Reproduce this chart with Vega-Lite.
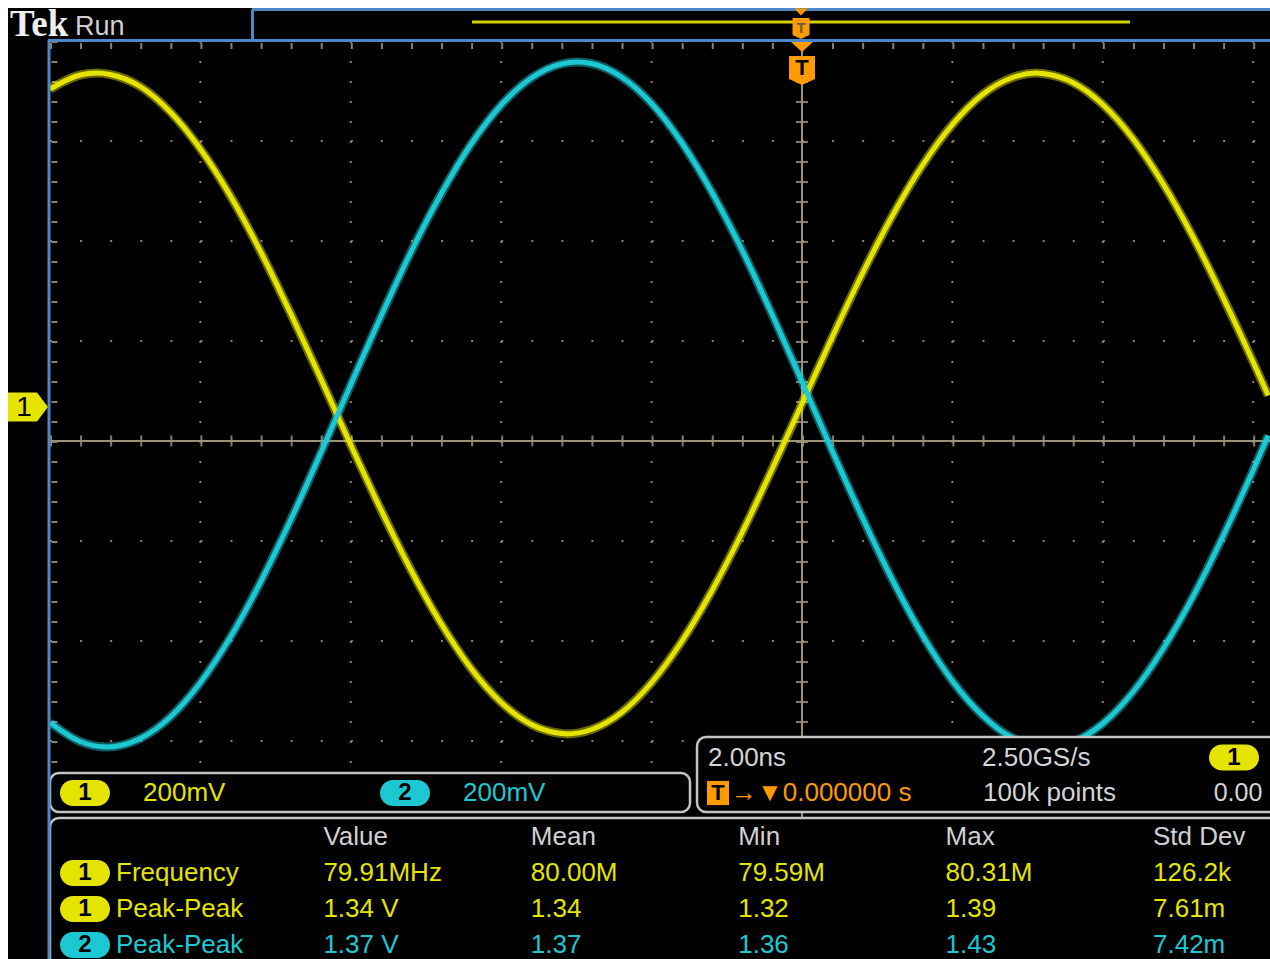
{
  "$schema": "https://vega.github.io/schema/vega-lite/v6.json",
  "width": 1262,
  "height": 951,
  "autosize": {"type": "none"},
  "padding": {"left": 8, "top": 8, "right": 0, "bottom": 0},
  "background": "white",
  "config": {"view": {"stroke": null, "fill": "black"}, "axis": {"disable": true}, "font": "Liberation Sans"},
  "datasets": {
    "traces": [
      {"ch":"1","t":-10,"v":0.636},{"ch":"1","t":-9.6,"v":0.664},{"ch":"1","t":-9.375,"v":0.668},{"ch":"1","t":-9.2,"v":0.665},{"ch":"1","t":-8.8,"v":0.641},{"ch":"1","t":-8.4,"v":0.590},{"ch":"1","t":-8,"v":0.516},{"ch":"1","t":-7.6,"v":0.422},{"ch":"1","t":-7.2,"v":0.311},{"ch":"1","t":-6.8,"v":0.187},{"ch":"1","t":-6.4,"v":0.057},{"ch":"1","t":-6,"v":-0.076},{"ch":"1","t":-5.6,"v":-0.205},{"ch":"1","t":-5.2,"v":-0.326},{"ch":"1","t":-4.8,"v":-0.433},{"ch":"1","t":-4.4,"v":-0.523},{"ch":"1","t":-4,"v":-0.591},{"ch":"1","t":-3.6,"v":-0.635},{"ch":"1","t":-3.2,"v":-0.653},{"ch":"1","t":-3.125,"v":-0.654},{"ch":"1","t":-2.8,"v":-0.645},{"ch":"1","t":-2.4,"v":-0.611},{"ch":"1","t":-2,"v":-0.551},{"ch":"1","t":-1.6,"v":-0.469},{"ch":"1","t":-1.2,"v":-0.368},{"ch":"1","t":-0.8,"v":-0.252},{"ch":"1","t":-0.4,"v":-0.125},{"ch":"1","t":0,"v":0.007},{"ch":"1","t":0.4,"v":0.139},{"ch":"1","t":0.8,"v":0.266},{"ch":"1","t":1.2,"v":0.382},{"ch":"1","t":1.6,"v":0.483},{"ch":"1","t":2,"v":0.565},{"ch":"1","t":2.4,"v":0.625},{"ch":"1","t":2.8,"v":0.659},{"ch":"1","t":3.125,"v":0.668},{"ch":"1","t":3.2,"v":0.667},{"ch":"1","t":3.6,"v":0.649},{"ch":"1","t":4,"v":0.605},{"ch":"1","t":4.4,"v":0.537},{"ch":"1","t":4.8,"v":0.447},{"ch":"1","t":5.2,"v":0.340},{"ch":"1","t":5.6,"v":0.219},{"ch":"1","t":6,"v":0.090},{"ch":"1","t":6.2,"v":0.023},
      {"ch":"2","t":-10,"v":-0.631},{"ch":"2","t":-9.6,"v":-0.669},{"ch":"2","t":-9.24,"v":-0.680},{"ch":"2","t":-8.8,"v":-0.663},{"ch":"2","t":-8.4,"v":-0.620},{"ch":"2","t":-8,"v":-0.551},{"ch":"2","t":-7.6,"v":-0.460},{"ch":"2","t":-7.2,"v":-0.350},{"ch":"2","t":-6.8,"v":-0.226},{"ch":"2","t":-6.4,"v":-0.092},{"ch":"2","t":-6,"v":0.045},{"ch":"2","t":-5.6,"v":0.181},{"ch":"2","t":-5.2,"v":0.310},{"ch":"2","t":-4.8,"v":0.426},{"ch":"2","t":-4.4,"v":0.526},{"ch":"2","t":-4,"v":0.604},{"ch":"2","t":-3.6,"v":0.658},{"ch":"2","t":-3.2,"v":0.686},{"ch":"2","t":-3,"v":0.690},{"ch":"2","t":-2.8,"v":0.687},{"ch":"2","t":-2.4,"v":0.660},{"ch":"2","t":-2,"v":0.607},{"ch":"2","t":-1.6,"v":0.529},{"ch":"2","t":-1.2,"v":0.430},{"ch":"2","t":-0.8,"v":0.315},{"ch":"2","t":-0.4,"v":0.186},{"ch":"2","t":0,"v":0.051},{"ch":"2","t":0.4,"v":-0.087},{"ch":"2","t":0.8,"v":-0.220},{"ch":"2","t":1.2,"v":-0.345},{"ch":"2","t":1.6,"v":-0.456},{"ch":"2","t":2,"v":-0.548},{"ch":"2","t":2.4,"v":-0.617},{"ch":"2","t":2.8,"v":-0.662},{"ch":"2","t":3.2,"v":-0.680},{"ch":"2","t":3.26,"v":-0.680},{"ch":"2","t":3.6,"v":-0.670},{"ch":"2","t":4,"v":-0.633},{"ch":"2","t":4.4,"v":-0.570},{"ch":"2","t":4.8,"v":-0.484},{"ch":"2","t":5.2,"v":-0.379},{"ch":"2","t":5.6,"v":-0.258},{"ch":"2","t":6,"v":-0.126},{"ch":"2","t":6.2,"v":-0.057}
    ],
    "vgrid": [{"t":-8},{"t":-6},{"t":-4},{"t":-2},{"t":2},{"t":4},{"t":6}],
    "hgrid": [{"v":0.532},{"v":0.332},{"v":0.132},{"v":-0.268},{"v":-0.468},{"v":-0.668}],
    "channels": [{"ch":"1","vdiv":"200mV"},{"ch":"2","vdiv":"200mV"}],
    "labels": [
      {"key":"brand","text":"Tek"},{"key":"state","text":"Run"},{"key":"trigger","text":"T"},
      {"key":"scale","text":"2.00ns"},{"key":"rate","text":"2.50GS/s"},
      {"key":"position","text":"→▼0.000000 s"},{"key":"record","text":"100k points"},{"key":"level","text":"0.00"}
    ],
    "meas": [
      {"row":"h","ch":"h","col":"Value","text":"Value"},{"row":"h","ch":"h","col":"Mean","text":"Mean"},{"row":"h","ch":"h","col":"Min","text":"Min"},{"row":"h","ch":"h","col":"Max","text":"Max"},{"row":"h","ch":"h","col":"Std Dev","text":"Std Dev"},
      {"row":"r1","ch":"1","col":"label","text":"Frequency"},{"row":"r1","ch":"1","col":"Value","text":"79.91MHz"},{"row":"r1","ch":"1","col":"Mean","text":"80.00M"},{"row":"r1","ch":"1","col":"Min","text":"79.59M"},{"row":"r1","ch":"1","col":"Max","text":"80.31M"},{"row":"r1","ch":"1","col":"Std Dev","text":"126.2k"},
      {"row":"r2","ch":"1","col":"label","text":"Peak-Peak"},{"row":"r2","ch":"1","col":"Value","text":"1.34 V"},{"row":"r2","ch":"1","col":"Mean","text":"1.34"},{"row":"r2","ch":"1","col":"Min","text":"1.32"},{"row":"r2","ch":"1","col":"Max","text":"1.39"},{"row":"r2","ch":"1","col":"Std Dev","text":"7.61m"},
      {"row":"r3","ch":"2","col":"label","text":"Peak-Peak"},{"row":"r3","ch":"2","col":"Value","text":"1.37 V"},{"row":"r3","ch":"2","col":"Mean","text":"1.37"},{"row":"r3","ch":"2","col":"Min","text":"1.36"},{"row":"r3","ch":"2","col":"Max","text":"1.43"},{"row":"r3","ch":"2","col":"Std Dev","text":"7.42m"}
    ]
  },
  "resolve": {"scale": {"x": "independent", "y": "independent"}},
  "layer": [
    {
      "layer": [
        {"data":{"name":"hgrid"},"mark":{"type":"rule","color":"#8a826c","strokeWidth":2,"strokeDash":[2,28.08]},
         "encoding":{"x":{"datum":-10,"type":"quantitative","scale":{"domain":[-10.5585,6.2234],"nice":false,"zero":false},"axis":null},"x2":{"datum":6.2234},
                     "y":{"field":"v","type":"quantitative","scale":{"domain":[-1.104,0.798],"nice":false,"zero":false},"axis":null}}},
        {"data":{"name":"vgrid"},"mark":{"type":"rule","color":"#8a826c","strokeWidth":2,"strokeDash":[2,18]},
         "encoding":{"x":{"field":"t","type":"quantitative","axis":null},"y":{"datum":0.732,"axis":null},"y2":{"datum":-0.74}}},
        {"data":{"values":[{}]},"mark":{"type":"rule","color":"#9c9278","strokeWidth":2},
         "encoding":{"x":{"datum":-10},"x2":{"datum":6.2234},"y":{"datum":-0.068}}},
        {"data":{"values":[{}]},"mark":{"type":"rule","color":"#9c9278","strokeWidth":11,"strokeDash":[2,28.08],"opacity":0.85},
         "encoding":{"x":{"datum":-10},"x2":{"datum":6.2234},"y":{"datum":-0.068}}},
        {"data":{"values":[{}]},"mark":{"type":"rule","color":"#9c9278","strokeWidth":2},
         "encoding":{"x":{"datum":0},"y":{"datum":0.732},"y2":{"datum":-0.83}}},
        {"data":{"values":[{}]},"mark":{"type":"rule","color":"#9c9278","strokeWidth":12,"strokeDash":[2,18],"opacity":0.85},
         "encoding":{"x":{"datum":0},"y":{"datum":0.732},"y2":{"datum":-0.74}}},
        {"data":{"values":[{}]},"mark":{"type":"rule","color":"#8a826c","strokeWidth":6,"strokeDash":[2,28.08]},
         "encoding":{"x":{"datum":-10},"x2":{"datum":6.2234},"y":{"datum":0.722}}},
        {"data":{"values":[{}]},"mark":{"type":"rule","color":"#8a826c","strokeWidth":6,"strokeDash":[2,18]},
         "encoding":{"x":{"datum":-9.94},"y":{"datum":0.732},"y2":{"datum":-0.74}}},
        {"data":{"name":"traces"},"mark":{"type":"line","interpolate":"monotone","strokeWidth":9,"opacity":0.45,"clip":true},
         "encoding":{"x":{"field":"t","type":"quantitative"},"y":{"field":"v","type":"quantitative"},
                     "color":{"field":"ch","type":"nominal","scale":{"domain":["1","2","h"],"range":["#e4e400","#1ec8d2","#d0d0d0"]},"legend":null},
                     "order":{"field":"t","type":"quantitative"}}},
        {"data":{"name":"traces"},"mark":{"type":"line","interpolate":"monotone","strokeWidth":5,"clip":true},
         "encoding":{"x":{"field":"t","type":"quantitative"},"y":{"field":"v","type":"quantitative"},
                     "color":{"field":"ch","type":"nominal","scale":{"domain":["1","2","h"],"range":["#e4e400","#1ec8d2","#d0d0d0"]},"legend":null},
                     "order":{"field":"t","type":"quantitative"}}},
        {"data":{"values":[{}]},"mark":{"type":"rect","fill":"black","stroke":"#c4c4c4","strokeWidth":2.5,"cornerRadius":9},
         "encoding":{"x":{"datum":-10},"x2":{"datum":-1.489},"y":{"datum":-0.732},"y2":{"datum":-0.81}}},
        {"data":{"values":[{}]},"mark":{"type":"rect","fill":"black","stroke":"#c4c4c4","strokeWidth":2.5,"cornerRadius":9,"clip":true},
         "encoding":{"x":{"datum":-1.396},"x2":{"datum":6.4},"y":{"datum":-0.66},"y2":{"datum":-0.81}}},
        {"data":{"values":[{}]},"mark":{"type":"rect","fill":"black","stroke":"#c4c4c4","strokeWidth":2.5,"cornerRadius":9,"clip":true},
         "encoding":{"x":{"datum":-10},"x2":{"datum":6.4},"y":{"datum":-0.822},"y2":{"datum":-1.2}}},
        {"data":{"values":[{}]},"mark":{"type":"rule","color":"#4d87c5","strokeWidth":3},
         "encoding":{"x":{"datum":-10.027},"x2":{"datum":6.2234},"y":{"datum":0.733}}},
        {"data":{"values":[{}]},"mark":{"type":"rule","color":"#4d87c5","strokeWidth":3},
         "encoding":{"x":{"datum":-10.013},"y":{"datum":0.733},"y2":{"datum":-1.104}}},
        {"data":{"values":[{}]},"mark":{"type":"rule","color":"#4d87c5","strokeWidth":3},
         "encoding":{"x":{"datum":-7.314},"x2":{"datum":6.2234},"y":{"datum":0.795}}},
        {"data":{"values":[{}]},"mark":{"type":"rule","color":"#4d87c5","strokeWidth":3},
         "encoding":{"x":{"datum":-7.307},"y":{"datum":0.795},"y2":{"datum":0.733}}},
        {"data":{"values":[{}]},"mark":{"type":"rule","color":"#d2d200","strokeWidth":3},
         "encoding":{"x":{"datum":-4.388},"x2":{"datum":4.362},"y":{"datum":0.77}}},
        {"data":{"values":[{}]},"mark":{"type":"point","shape":"M-1,-0.5L1,-0.5L0,0.5Z","size":196,"filled":true,"opacity":1,"strokeWidth":0,"color":"#ff9a00"},
         "encoding":{"x":{"datum":-0.013},"y":{"datum":0.79}}},
        {"data":{"values":[{}]},"mark":{"type":"point","shape":"M-1,-1.18L1,-1.18L1,0.82L0,1.3L-1,0.82Z","size":289,"filled":true,"opacity":1,"strokeWidth":0,"color":"#ff9a00"},
         "encoding":{"x":{"datum":-0.013},"y":{"datum":0.758}}},
        {"data":{"name":"labels"},"transform":[{"filter":"datum.key == 'trigger'"}],"mark":{"type":"text","color":"#6e5e3e","fontSize":15,"fontWeight":"bold","align":"center","baseline":"middle"},
         "encoding":{"x":{"datum":-0.013},"y":{"datum":0.758},"text":{"field":"text"}}},
        {"data":{"values":[{}]},"mark":{"type":"point","shape":"M-1,-0.45L1,-0.45L0,0.45Z","size":484,"filled":true,"opacity":1,"strokeWidth":0,"color":"#ff9a00"},
         "encoding":{"x":{"datum":0},"y":{"datum":0.72}}},
        {"data":{"values":[{}]},"mark":{"type":"point","shape":"M-1,-1L1,-1L1,0.77L0,1.23L-1,0.77Z","size":676,"filled":true,"opacity":1,"strokeWidth":0,"color":"#ff9a00"},
         "encoding":{"x":{"datum":0},"y":{"datum":0.676}}},
        {"data":{"name":"labels"},"transform":[{"filter":"datum.key == 'trigger'"}],"mark":{"type":"text","color":"black","fontSize":22,"fontWeight":"bold","align":"center","baseline":"middle"},
         "encoding":{"x":{"datum":0},"y":{"datum":0.678},"text":{"field":"text"}}},
        {"data":{"name":"channels"},"transform":[{"filter":"datum.ch == '1'"}],"mark":{"type":"point","shape":"M-1,-0.72L0.45,-0.72L1,0L0.45,0.72L-1,0.72Z","size":1600,"filled":true,"opacity":1,"strokeWidth":0},
         "encoding":{"x":{"datum":-10.293},"y":{"datum":0},"color":{"field":"ch","type":"nominal","scale":{"domain":["1","2","h"],"range":["#e4e400","#1ec8d2","#d0d0d0"]},"legend":null}}},
        {"data":{"name":"channels"},"transform":[{"filter":"datum.ch == '1'"}],"mark":{"type":"text","color":"black","fontSize":28,"align":"center","baseline":"middle"},
         "encoding":{"x":{"datum":-10.346},"y":{"datum":-0.001},"text":{"field":"ch"}}},
        {"data":{"name":"channels"},"transform":[{"filter":"datum.ch == '1'"}],"mark":{"type":"point","shape":"M-0.48,-0.52L0.48,-0.52A0.52,0.52,0,0,1,0.48,0.52L-0.48,0.52A0.52,0.52,0,0,1,-0.48,-0.52Z","size":2500,"filled":true,"opacity":1,"strokeWidth":0},
         "encoding":{"x":{"datum":-9.535},"y":{"datum":-0.772},"color":{"field":"ch","type":"nominal","scale":{"domain":["1","2","h"],"range":["#e4e400","#1ec8d2","#d0d0d0"]},"legend":null}}},
        {"data":{"name":"channels"},"transform":[{"filter":"datum.ch == '1'"}],"mark":{"type":"text","color":"black","fontSize":24,"fontWeight":"bold","align":"center","baseline":"middle"},
         "encoding":{"x":{"datum":-9.535},"y":{"datum":-0.772},"text":{"field":"ch"}}},
        {"data":{"name":"channels"},"transform":[{"filter":"datum.ch == '1'"}],"mark":{"type":"text","fontSize":26,"align":"left","baseline":"middle"},
         "encoding":{"x":{"datum":-8.763},"y":{"datum":-0.772},"text":{"field":"vdiv"},"color":{"field":"ch","type":"nominal","scale":{"domain":["1","2","h"],"range":["#e4e400","#1ec8d2","#d0d0d0"]},"legend":null}}},
        {"data":{"name":"channels"},"transform":[{"filter":"datum.ch == '2'"}],"mark":{"type":"point","shape":"M-0.48,-0.52L0.48,-0.52A0.52,0.52,0,0,1,0.48,0.52L-0.48,0.52A0.52,0.52,0,0,1,-0.48,-0.52Z","size":2500,"filled":true,"opacity":1,"strokeWidth":0},
         "encoding":{"x":{"datum":-5.279},"y":{"datum":-0.772},"color":{"field":"ch","type":"nominal","scale":{"domain":["1","2","h"],"range":["#e4e400","#1ec8d2","#d0d0d0"]},"legend":null}}},
        {"data":{"name":"channels"},"transform":[{"filter":"datum.ch == '2'"}],"mark":{"type":"text","color":"black","fontSize":24,"fontWeight":"bold","align":"center","baseline":"middle"},
         "encoding":{"x":{"datum":-5.279},"y":{"datum":-0.772},"text":{"field":"ch"}}},
        {"data":{"name":"channels"},"transform":[{"filter":"datum.ch == '2'"}],"mark":{"type":"text","fontSize":26,"align":"left","baseline":"middle"},
         "encoding":{"x":{"datum":-4.508},"y":{"datum":-0.772},"text":{"field":"vdiv"},"color":{"field":"ch","type":"nominal","scale":{"domain":["1","2","h"],"range":["#e4e400","#1ec8d2","#d0d0d0"]},"legend":null}}},
        {"data":{"name":"labels"},"transform":[{"filter":"datum.key == 'scale'"}],"mark":{"type":"text","color":"#d4d4d4","fontSize":26,"align":"left","baseline":"middle"},
         "encoding":{"x":{"datum":-1.25},"y":{"datum":-0.701},"text":{"field":"text"}}},
        {"data":{"name":"labels"},"transform":[{"filter":"datum.key == 'rate'"}],"mark":{"type":"text","color":"#d4d4d4","fontSize":26,"align":"left","baseline":"middle"},
         "encoding":{"x":{"datum":2.394},"y":{"datum":-0.701},"text":{"field":"text"}}},
        {"data":{"name":"labels"},"transform":[{"filter":"datum.key == 'record'"}],"mark":{"type":"text","color":"#d4d4d4","fontSize":26,"align":"left","baseline":"middle"},
         "encoding":{"x":{"datum":2.407},"y":{"datum":-0.772},"text":{"field":"text"}}},
        {"data":{"name":"labels"},"transform":[{"filter":"datum.key == 'level'"}],"mark":{"type":"text","color":"#d4d4d4","fontSize":25,"align":"left","baseline":"middle"},
         "encoding":{"x":{"datum":5.475},"y":{"datum":-0.772},"text":{"field":"text"}}},
        {"data":{"name":"labels"},"transform":[{"filter":"datum.key == 'position'"}],"mark":{"type":"text","color":"#ff9a00","fontSize":26,"align":"left","baseline":"middle"},
         "encoding":{"x":{"datum":-0.944},"y":{"datum":-0.772},"text":{"field":"text"}}},
        {"data":{"values":[{}]},"mark":{"type":"point","shape":"M-1,-1.1L1,-1.1L1,1.1L-1,1.1Z","size":484,"filled":true,"opacity":1,"strokeWidth":0,"color":"#ff9a00"},
         "encoding":{"x":{"datum":-1.117},"y":{"datum":-0.772}}},
        {"data":{"name":"labels"},"transform":[{"filter":"datum.key == 'trigger'"}],"mark":{"type":"text","color":"black","fontSize":22,"fontWeight":"bold","align":"center","baseline":"middle"},
         "encoding":{"x":{"datum":-1.117},"y":{"datum":-0.772},"text":{"field":"text"}}},
        {"data":{"name":"channels"},"transform":[{"filter":"datum.ch == '1'"}],"mark":{"type":"point","shape":"M-0.48,-0.52L0.48,-0.52A0.52,0.52,0,0,1,0.48,0.52L-0.48,0.52A0.52,0.52,0,0,1,-0.48,-0.52Z","size":2500,"filled":true,"opacity":1,"strokeWidth":0},
         "encoding":{"x":{"datum":5.745},"y":{"datum":-0.701},"color":{"field":"ch","type":"nominal","scale":{"domain":["1","2","h"],"range":["#e4e400","#1ec8d2","#d0d0d0"]},"legend":null}}},
        {"data":{"name":"channels"},"transform":[{"filter":"datum.ch == '1'"}],"mark":{"type":"text","color":"black","fontSize":24,"fontWeight":"bold","align":"center","baseline":"middle"},
         "encoding":{"x":{"datum":5.745},"y":{"datum":-0.701},"text":{"field":"ch"}}},
        {"data":{"name":"labels"},"transform":[{"filter":"datum.key == 'brand'"}],"mark":{"type":"text","color":"#eeeeee","font":"Liberation Serif","fontSize":37,"fontWeight":"bold","align":"left","baseline":"alphabetic"},
         "encoding":{"x":{"datum":-10.532},"y":{"datum":0.742},"text":{"field":"text"}}},
        {"data":{"name":"labels"},"transform":[{"filter":"datum.key == 'state'"}],"mark":{"type":"text","color":"#cfcfcf","fontSize":27,"align":"left","baseline":"alphabetic"},
         "encoding":{"x":{"datum":-9.668},"y":{"datum":0.744},"text":{"field":"text"}}}
      ]
    },
    {
      "data": {"name": "meas"},
      "encoding": {
        "x": {"field":"col","type":"nominal","scale":{"type":"point","domain":["label","Value","Mean","Min","Max","Std Dev"],"range":[108,1145],"padding":0},"axis":null},
        "y": {"field":"row","type":"nominal","scale":{"type":"point","domain":["h","r1","r2","r3"],"range":[829,937],"padding":0},"axis":null}
      },
      "layer": [
        {"transform":[{"filter":"datum.col == 'label'"}],
         "mark":{"type":"point","shape":"M-0.48,-0.52L0.48,-0.52A0.52,0.52,0,0,1,0.48,0.52L-0.48,0.52A0.52,0.52,0,0,1,-0.48,-0.52Z","size":2500,"filled":true,"opacity":1,"strokeWidth":0,"xOffset":-31},
         "encoding":{"color":{"field":"ch","type":"nominal","scale":{"domain":["1","2","h"],"range":["#e4e400","#1ec8d2","#d0d0d0"]},"legend":null}}},
        {"transform":[{"filter":"datum.col == 'label'"}],
         "mark":{"type":"text","color":"black","fontSize":24,"fontWeight":"bold","align":"center","baseline":"middle","dx":-31},
         "encoding":{"text":{"field":"ch"}}},
        {"mark":{"type":"text","fontSize":26,"align":"left","baseline":"middle"},
         "encoding":{"text":{"field":"text"},"color":{"field":"ch","type":"nominal","scale":{"domain":["1","2","h"],"range":["#e4e400","#1ec8d2","#d0d0d0"]},"legend":null}}}
      ]
    }
  ]
}
